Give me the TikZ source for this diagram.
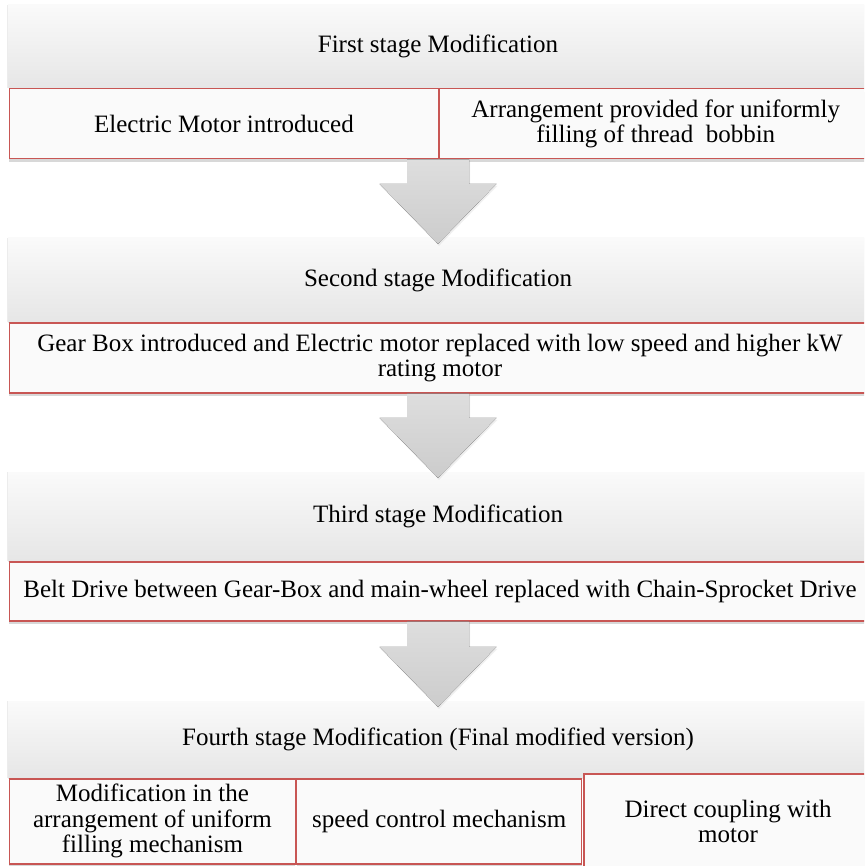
\documentclass[tikz,border=0pt]{standalone}
\usepackage{fontspec}
\setmainfont{Liberation Serif}
\usetikzlibrary{positioning,calc,shadows}

\definecolor{boxred}{RGB}{200,86,84}
\definecolor{headtop}{RGB}{250,250,250}
\definecolor{headbot}{RGB}{230,230,230}

\begin{document}
\begin{tikzpicture}[x=1pt,y=-1pt,
    font=\fontsize{25}{25.5}\selectfont,
    stagehead/.style={rectangle, inner sep=0pt, minimum width=860pt, minimum height=#1,
      top color=headtop, bottom color=headbot,
      drop shadow={shadow xshift=-1.5pt, shadow yshift=0pt, opacity=0.15}},
    modbox/.style={rectangle, draw=boxred, line width=1.3pt, fill=white!98!black,
      inner sep=0pt, align=center,
      drop shadow={shadow xshift=0pt, shadow yshift=-3pt, opacity=0.3}},
    blockarrow/.style={top color=gray!26, bottom color=gray!40,
      drop shadow={shadow xshift=1pt, shadow yshift=-2pt, opacity=0.12}}]
  \useasboundingbox (0,0) rectangle (864,866);
  \fill[white] (0,0) rectangle (864,866);
  \clip (0,0) rectangle (864,866);

  % first stage
  \node[stagehead=83pt] (h1) at (438,46.5) {First stage Modification};
  \node[modbox, minimum width=429pt, minimum height=70pt,
    below right=0pt and 1pt of h1.south west] (r1a) {Electric Motor introduced};
  \node[modbox, minimum width=432pt, minimum height=70pt, right=0pt of r1a] (r1b)
    {Arrangement provided for uniformly\\filling of thread\ \ bobbin};

  % second stage
  \node[stagehead=84pt] (h2) at (438,280) {Second stage Modification};
  \node[modbox, minimum width=861pt, minimum height=70pt,
    below right=0pt and 1pt of h2.south west] (r2)
    {Gear Box introduced and Electric motor replaced with low speed and higher kW\\rating motor};

  % third stage
  \node[stagehead=89pt] (h3) at (438,516.5) {Third stage Modification};
  \node[modbox, minimum width=861pt, minimum height=59pt,
    below right=0pt and 1pt of h3.south west] (r3)
    {Belt Drive between Gear-Box and main-wheel replaced with Chain-Sprocket Drive};

  % fourth stage
  \node[stagehead=77pt] (h4) at (438,739.5) {Fourth stage Modification (Final modified version)};
  \node[modbox, minimum width=286pt, minimum height=85pt,
    below right=0pt and 1pt of h4.south west] (r4a)
    {Modification in the\\arrangement of uniform\\filling mechanism};
  \node[modbox, minimum width=285pt, minimum height=85pt, right=0pt of r4a] (r4b)
    {speed control mechanism};
  \node[modbox, minimum width=288pt, minimum height=95pt, right=1pt of r4b] (r4c)
    {Direct coupling with\\motor};

  % block arrows between the stages
  \foreach \from/\to in {r1a.south east/h2, r2.south/h3, r3.south/h4}{
    \coordinate (top) at (\to.north |- \from);
    \coordinate (tip) at ($(\to.north)+(0,6)$);
    \fill[blockarrow] ($(top)+(-31,0)$) -- ($(top)+(31,0)$) -- ($(tip)+(31,-60)$)
      -- ($(tip)+(58.5,-60)$) -- (tip) -- ($(tip)+(-58.5,-60)$)
      -- ($(tip)+(-31,-60)$) -- cycle;
  }
\end{tikzpicture}
\end{document}
